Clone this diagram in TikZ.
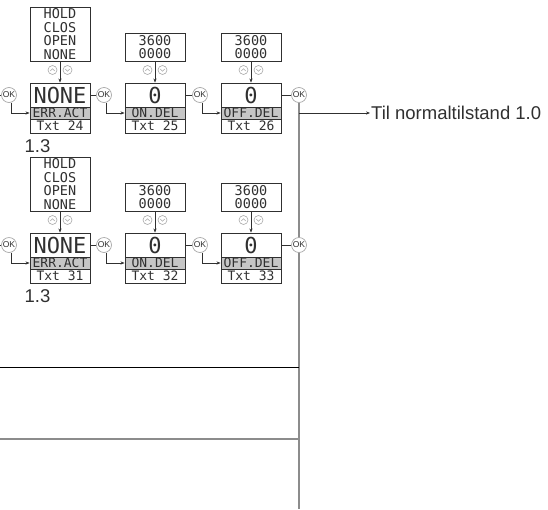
\documentclass[tikz,border=0pt]{standalone}
\usepackage{fontspec}
\setmainfont{Liberation Sans}
\newfontfamily\lcd{DejaVu Sans Mono}
\usetikzlibrary{arrows.meta,calc,backgrounds}
\definecolor{dgray}{HTML}{303030}
\definecolor{mgray}{HTML}{8C8C8C}
\definecolor{lgray}{HTML}{A8A8A8}
\definecolor{bandgray}{HTML}{C6C6C6}
\tikzset{
  lcd/.style={draw=dgray, line width=0.9pt, minimum width=60pt, inner sep=0pt, align=center, text=dgray},
  optbox/.style={lcd, font=\lcd\fontsize{13.5}{13.5}\selectfont},
  valbox/.style={lcd, minimum height=24pt, font=\lcd\fontsize{22}{22}\selectfont},
  labbox/.style={lcd, minimum height=12pt, fill=bandgray, font=\lcd\fontsize{13}{12}\selectfont},
  txtbox/.style={lcd, minimum height=14pt, font=\lcd\fontsize{13}{13}\selectfont},
  okc/.style={circle, draw=lgray, line width=0.7pt, fill=white, minimum size=15pt, inner sep=0pt, font=\fontsize{8.5}{8.5}\selectfont, text=dgray},
  upic/.style={circle, draw=lgray, line width=0.6pt, fill=white, minimum size=9pt, inner sep=0pt,
    path picture={\draw[lgray, line width=0.6pt] ($(path picture bounding box.center)+(-2.2,1)$) -- ++(2.2,-2.2) -- ++(2.2,2.2);}},
  dnic/.style={circle, draw=lgray, line width=0.6pt, fill=white, minimum size=9pt, inner sep=0pt,
    path picture={\draw[lgray, line width=0.6pt] ($(path picture bounding box.center)+(-2.2,-1)$) -- ++(2.2,2.2) -- ++(2.2,-2.2);}},
  ln/.style={draw=dgray, line width=0.8pt},
  arr/.style={ln, -{Stealth[length=4pt,width=3.2pt]}},
  vln/.style={draw=mgray, line width=1.5pt},
  bigtext/.style={font=\fontsize{18.5}{18.5}\selectfont, text=dgray, inner sep=1pt}
}
\begin{document}
\begin{tikzpicture}[x=1pt,y=-1pt]
\useasboundingbox (0,0) rectangle (548,509);
\foreach \r/\dy/\ta/\tb/\tc in {1/0/24/25/26, 2/150/31/32/33} {
  % column 1
  \node[optbox, minimum height=54pt] (o\r1) at (60,34+\dy) {HOLD\\CLOS\\OPEN\\NONE};
  \node[valbox] (v\r1) at (60,95+\dy) {NONE};
  \node[labbox] (l\r1) at (60,113+\dy) {ERR.ACT};
  \node[txtbox] (t\r1) at (60,126+\dy) {Txt \ta};
  % column 2
  \node[optbox, minimum height=28pt] (o\r2) at (155,47+\dy) {3600\\0000};
  \node[valbox] (v\r2) at (155,95+\dy) {0};
  \node[labbox] (l\r2) at (155,113+\dy) {ON.DEL};
  \node[txtbox] (t\r2) at (155,126+\dy) {Txt \tb};
  % column 3
  \node[optbox, minimum height=28pt] (o\r3) at (251,47+\dy) {3600\\0000};
  \node[valbox] (v\r3) at (251,95+\dy) {0};
  \node[labbox] (l\r3) at (251,113+\dy) {OFF.DEL};
  \node[txtbox] (t\r3) at (251,126+\dy) {Txt \tc};
  % up/down icons and arrows
  \node[upic] (ua\r1) at (52.5,70+\dy) {};
  \node[dnic] (ub\r1) at (67.5,70+\dy) {};
  \node[upic] (ua\r2) at (147.5,70+\dy) {};
  \node[dnic] (ub\r2) at (162.5,70+\dy) {};
  \node[upic] (ua\r3) at (243.5,70+\dy) {};
  \node[dnic] (ub\r3) at (258.5,70+\dy) {};
  \draw[arr] (o\r1) -- (v\r1);
  \draw[arr] (o\r2) -- (v\r2);
  \draw[arr] (o\r3) -- (v\r3);
  % OK buttons
  \node[okc] (k\r1) at (9,95+\dy) {OK};
  \node[okc] (k\r2) at (104,95+\dy) {OK};
  \node[okc] (k\r3) at (200,95+\dy) {OK};
  \node[okc] (k\r4) at (299,95+\dy) {OK};
  \coordinate (e\r) at (0,95+\dy);
  \draw[ln] (e\r) -- (k\r1);
  \draw[ln] (v\r1) -- (k\r2);
  \draw[ln] (v\r2) -- (k\r3);
  \draw[ln] (v\r3) -- (k\r4);
  \draw[arr] (k\r1.-75) |- (l\r1.west);
  \draw[arr] (k\r2.-75) |- (l\r2.west);
  \draw[arr] (k\r3.-75) |- (l\r3.west);
  % section label
  \node[bigtext] (s\r) at (37.5,146+\dy) {1.3};
}
% right vertical line
\coordinate (bot) at (299,509);
\begin{scope}[on background layer]
  \draw[vln] (k14.south) -- (bot);
\end{scope}
% exit to normal state
\coordinate (tap) at (k14 |- l11);
\node[bigtext, anchor=west] (til) at (370,113) {Til normaltilstand 1.0};
\draw[arr] (tap) -- (til.west);
% lower separators
\coordinate (h1) at (0,367);
\coordinate (h2) at (0,439);
\draw[ln, draw=black] (h1) -- (h1 -| bot);
\draw[vln] (h2) -- (h2 -| bot);
\end{tikzpicture}
\end{document}
